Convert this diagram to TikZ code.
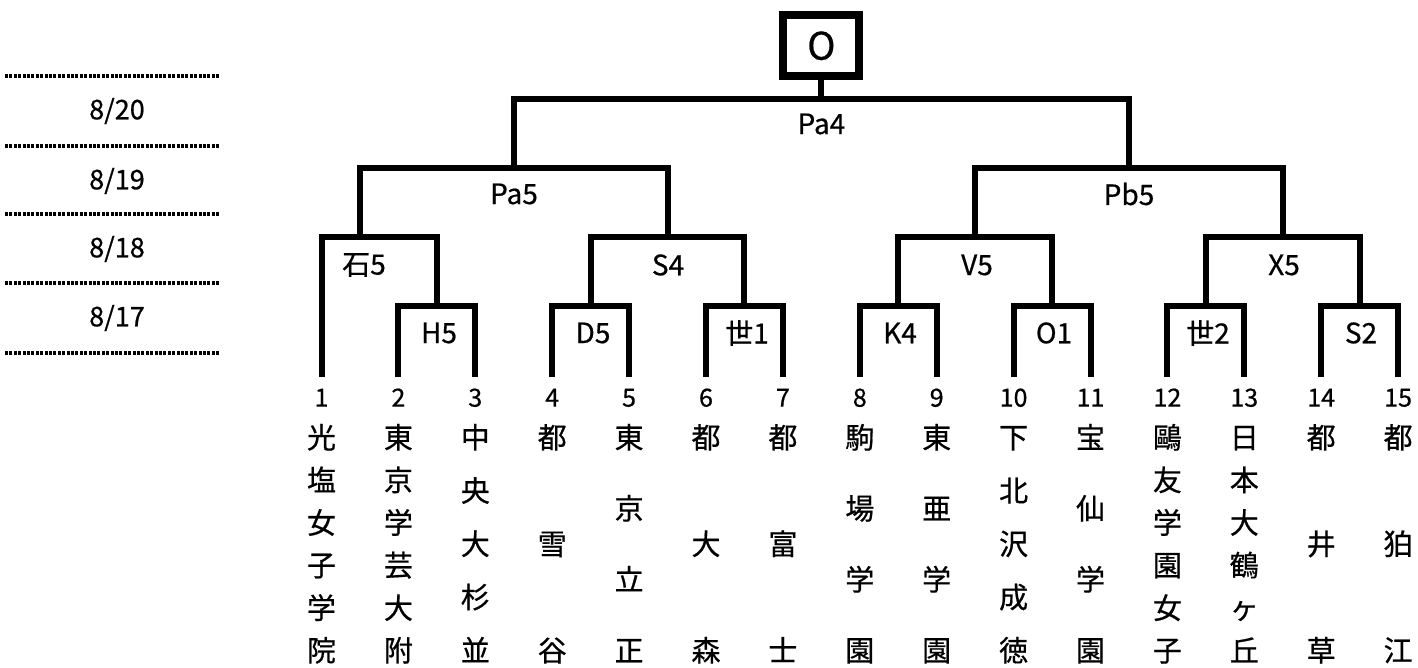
\documentclass[tikz,border=0pt]{standalone}
\usepackage{fontspec}
\setmainfont{Noto Sans CJK JP}[FakeBold=0.6]
\newcommand\tcol[3]{%
  \node[num] (n#1) at ({321.5+76.9*(#1-1)},403) {#1};
  \foreach \c [count=\k] in {#3} {
    \node[ch] (c#1-\k) at ({321.5+76.9*(#1-1)},{444.5+(\k-1)*213/(#2-1)}) {\c};
  }%
}
\begin{document}
\begin{tikzpicture}[x=1pt,y=-1pt,
  bar/.style={line width=6pt, line join=miter, line cap=butt},
  lbl/.style={font=\fontsize{28}{30}\selectfont, inner sep=0pt},
  num/.style={font=\fontsize{25}{27}\selectfont, inner sep=0pt, text height=0.73em, text depth=0pt},
  ch/.style={font=\fontsize{29}{31}\selectfont, inner sep=0pt, text height=0.84em, text depth=0.08em},
  datelbl/.style={font=\fontsize{27}{29}\selectfont, inner sep=0pt},
  dotline/.style={line width=3.5pt, dash pattern=on 3pt off 1.4pt},
]
\useasboundingbox (0,0) rectangle (1418,668);

% date column
\foreach \yy in {76,146,214,283,353}
  \draw[dotline] (5,\yy) -- (220,\yy);
\node[datelbl] (d20) at (117,111) {8/20};
\node[datelbl] (d19) at (117,181) {8/19};
\node[datelbl] (d18) at (117,249) {8/18};
\node[datelbl] (d17) at (117,318) {8/17};

% leaf ends
\foreach \i in {1,...,15}
  \coordinate (L\i) at ({321.5+76.9*(\i-1)},377);

% match points
\coordinate (mH5)   at (436.85,306);
\coordinate (mD5)   at (590.65,306);
\coordinate (mSe1)  at (744.45,306);
\coordinate (mK4)   at (898.25,306);
\coordinate (mO1)   at (1052.05,306);
\coordinate (mSe2)  at (1205.85,306);
\coordinate (mS2)   at (1359.65,306);
\coordinate (mIshi) at (360,237);
\coordinate (mS4)   at (667.55,237);
\coordinate (mV5)   at (975.15,237);
\coordinate (mX5)   at (1282.75,237);
\coordinate (mPa5)  at (513.78,168);
\coordinate (mPb5)  at (1128.95,168);
\coordinate (mPa4)  at (821.36,99);

% final box
\node[draw, line width=8pt, minimum width=76pt, minimum height=61.5pt,
      inner sep=0pt, font=\fontsize{38}{40}\selectfont] (O) at (821.36,45.75) {O};

% brackets
\draw[bar] (L2) |- (mH5) -| (L3);
\draw[bar] (L4) |- (mD5) -| (L5);
\draw[bar] (L6) |- (mSe1) -| (L7);
\draw[bar] (L8) |- (mK4) -| (L9);
\draw[bar] (L10) |- (mO1) -| (L11);
\draw[bar] (L12) |- (mSe2) -| (L13);
\draw[bar] (L14) |- (mS2) -| (L15);
\draw[bar] (L1) |- (mIshi) -| (mH5);
\draw[bar] (mD5) |- (mS4) -| (mSe1);
\draw[bar] (mK4) |- (mV5) -| (mO1);
\draw[bar] (mSe2) |- (mX5) -| (mS2);
\draw[bar] (mIshi) |- (mPa5) -| (mS4);
\draw[bar] (mV5) |- (mPb5) -| (mX5);
\draw[bar] (mPa5) |- (mPa4) -| (mPb5);
\draw[bar] (mPa4) -- (O);

% match labels
\node[lbl] (tPa4) at (821.4,124) {Pa4};
\node[lbl] (tPa5) at (514,194) {Pa5};
\node[lbl] (tPb5) at (1129,194) {Pb5};
\node[lbl] (tIshi) at (364,265) {石5};
\node[lbl] (tS4) at (668,265) {S4};
\node[lbl] (tV5) at (977,265) {V5};
\node[lbl] (tX5) at (1284,265) {X5};
\node[lbl] (tH5) at (439,333) {H5};
\node[lbl] (tD5) at (593,333) {D5};
\node[lbl] (tSe1) at (747,333) {世1};
\node[lbl] (tK4) at (900,333) {K4};
\node[lbl] (tO1) at (1054,333) {O1};
\node[lbl] (tSe2) at (1208,333) {世2};
\node[lbl] (tS2) at (1361,333) {S2};

% team columns
\tcol{1}{6}{光,塩,女,子,学,院}
\tcol{2}{6}{東,京,学,芸,大,附}
\tcol{3}{5}{中,央,大,杉,並}
\tcol{4}{3}{都,雪,谷}
\tcol{5}{4}{東,京,立,正}
\tcol{6}{3}{都,大,森}
\tcol{7}{3}{都,富,士}
\tcol{8}{4}{駒,場,学,園}
\tcol{9}{4}{東,亜,学,園}
\tcol{10}{5}{下,北,沢,成,徳}
\tcol{11}{4}{宝,仙,学,園}
\tcol{12}{6}{鷗,友,学,園,女,子}
\tcol{13}{6}{日,本,大,鶴,ヶ,丘}
\tcol{14}{3}{都,井,草}
\tcol{15}{3}{都,狛,江}
\end{tikzpicture}
\end{document}
